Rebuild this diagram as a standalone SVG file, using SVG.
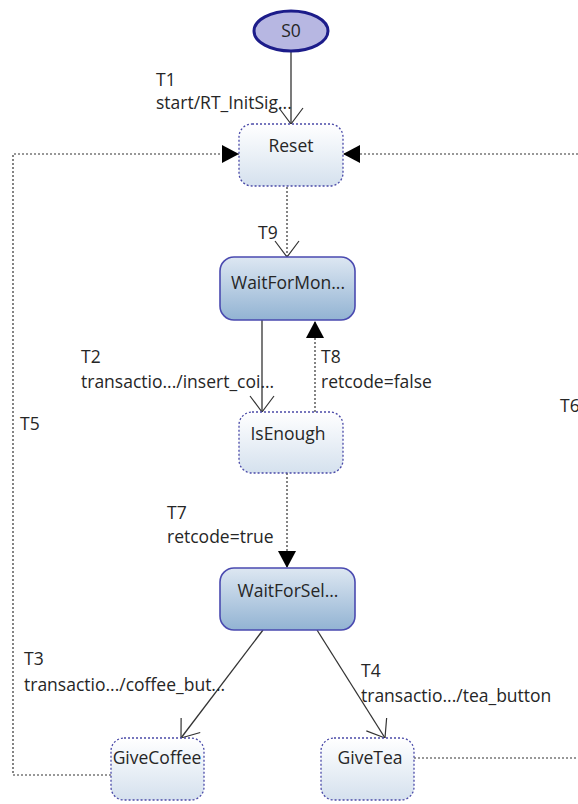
<svg xmlns="http://www.w3.org/2000/svg" width="578" height="804" viewBox="0 0 578 804">
<defs>
<linearGradient id="gLight" x1="0" y1="0" x2="0" y2="1">
<stop offset="0" stop-color="#ffffff"/>
<stop offset="1" stop-color="#d5e1ee"/>
</linearGradient>
<linearGradient id="gDark" x1="0" y1="0" x2="0" y2="1">
<stop offset="0" stop-color="#dde7f2"/>
<stop offset="1" stop-color="#92b3d3"/>
</linearGradient>
<marker id="open" viewBox="0 0 18 26" refX="17" refY="13" markerWidth="18" markerHeight="26" markerUnits="userSpaceOnUse" orient="auto">
<path d="M1,1 L17,13 L1,25" fill="none" stroke="#333" stroke-width="1.2"/>
</marker>
<marker id="filled" viewBox="0 0 17 18" refX="17" refY="9" markerWidth="17" markerHeight="18" markerUnits="userSpaceOnUse" orient="auto">
<path d="M0,0 L17,9 L0,18 Z" fill="#000"/>
</marker>
</defs>
<style>
text{font-family:"Open Sans","Noto Sans","Liberation Sans",sans-serif;font-size:17.5px;fill:#262626}
.name{text-anchor:middle}
.st{fill:url(#gLight);stroke:#4a4aa8;stroke-width:1.3;stroke-dasharray:2 2}
.stD{fill:url(#gDark);stroke:#4a4ab0;stroke-width:1.6}
.solid{fill:none;stroke:#333;stroke-width:1.3}
.dot{fill:none;stroke:#333;stroke-width:1.2;stroke-dasharray:2 2}
</style>
<g id="connectors">
<path class="solid" d="M291,52 L291,124" marker-end="url(#open)"/>
<path class="dot" d="M287,187 L287,257" marker-end="url(#open)"/>
<path class="solid" d="M262,320 L262,412" marker-end="url(#open)"/>
<path class="dot" d="M315,412 L315,321" marker-end="url(#filled)"/>
<path class="dot" d="M287,473 L287,568" marker-end="url(#filled)"/>
<path class="solid" d="M263,630 L181,738" marker-end="url(#open)"/>
<path class="solid" d="M317,630 L385,738" marker-end="url(#open)"/>
<path class="dot" d="M111,775 L13,775 L13,154 L239,154" marker-end="url(#filled)"/>
<path class="dot" d="M414,758 L578,758"/>
<path class="dot" d="M578,154 L343,154" marker-end="url(#filled)"/>
<text x="156" y="86">T1</text>
<text x="156" y="109">start/RT_InitSig...</text>
<text x="258" y="239">T9</text>
<text x="81" y="363">T2</text>
<text x="81" y="388">transactio.../insert_coi...</text>
<text x="321" y="363">T8</text>
<text x="321" y="388">retcode=false</text>
<text x="167" y="519">T7</text>
<text x="167" y="543">retcode=true</text>
<text x="24" y="665">T3</text>
<text x="24" y="691">transactio.../coffee_but...</text>
<text x="361" y="677">T4</text>
<text x="361" y="702">transactio.../tea_button</text>
<text x="20" y="430">T5</text>
<text x="560" y="412">T6</text>
</g>
<g id="S0">
<ellipse cx="291" cy="31" rx="37" ry="20" fill="#b7b7e2" stroke="#1c1c8a" stroke-width="3"/>
<text class="name" x="291" y="37">S0</text>
</g>
<g id="Reset">
<rect class="st" x="239" y="124" width="104" height="62" rx="13"/>
<text class="name" x="291" y="152">Reset</text>
</g>
<g id="WaitForMoney">
<rect class="stD" x="220" y="257" width="135" height="63" rx="14"/>
<text class="name" x="288" y="289">WaitForMon...</text>
</g>
<g id="IsEnough">
<rect class="st" x="239" y="412" width="104" height="61" rx="13"/>
<text class="name" x="288" y="440">IsEnough</text>
</g>
<g id="WaitForSelection">
<rect class="stD" x="220" y="568" width="135" height="62" rx="14"/>
<text class="name" x="288" y="597">WaitForSel...</text>
</g>
<g id="GiveCoffee">
<rect class="st" x="111" y="738" width="93" height="62" rx="13"/>
<text class="name" x="157" y="764">GiveCoffee</text>
</g>
<g id="GiveTea">
<rect class="st" x="321" y="738" width="93" height="62" rx="13"/>
<text class="name" x="370" y="764">GiveTea</text>
</g>
</svg>
